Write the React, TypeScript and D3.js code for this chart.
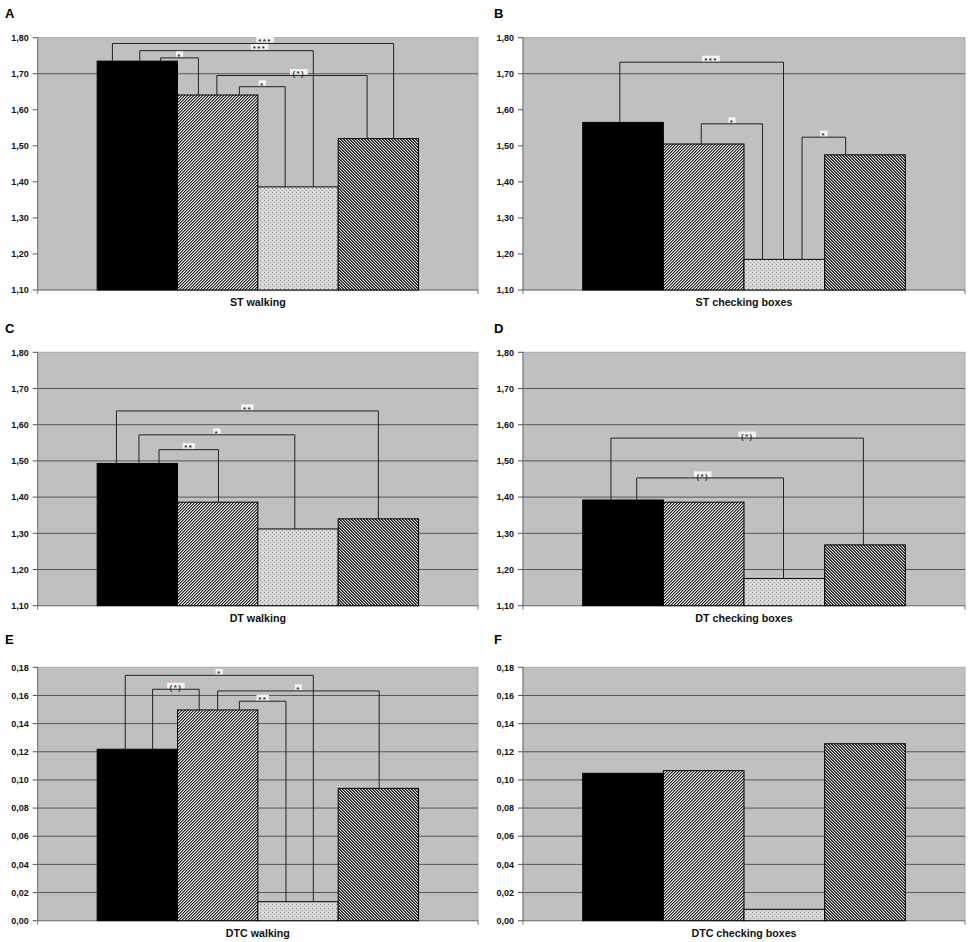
import React from "react";
import * as d3 from "d3";

// four groups, always drawn in this order
const groups = ["G1", "G2", "G3", "G4"];
const groupFills = ["#000", "url(#hatchUp)", "url(#dots)", "url(#hatchDown)"];

const letters = ["A", "B", "C", "D", "E", "F"];
const titles = [
  "ST walking",
  "ST checking boxes",
  "DT walking",
  "DT checking boxes",
  "DTC walking",
  "DTC checking boxes",
];

// bar heights per panel
const valuesA = [1.735, 1.641, 1.386, 1.52];
const valuesB = [1.565, 1.505, 1.185, 1.475];
const valuesC = [1.493, 1.386, 1.312, 1.34];
const valuesD = [1.392, 1.386, 1.175, 1.268];
const valuesE = [0.1218, 0.1497, 0.0135, 0.094];
const valuesF = [0.1047, 0.1066, 0.0081, 0.1257];

const ticksUpper = [1.1, 1.2, 1.3, 1.4, 1.5, 1.6, 1.7, 1.8];
const ticksLower = [0, 0.02, 0.04, 0.06, 0.08, 0.1, 0.12, 0.14, 0.16, 0.18];

// only one gridline survives in the top row
const gridTop = [1.7];
const gridUpper = [1.2, 1.3, 1.4, 1.5, 1.6, 1.7];
const gridLower = [0.02, 0.04, 0.06, 0.08, 0.1, 0.12, 0.14, 0.16];

// significance brackets: from/to in bar units (bar i spans i..i+1), level in data units
const bracketsA = [
  { from: 0.19, to: 3.69, level: 1.784, label: "***", at: 2.09 },
  { from: 0.53, to: 2.69, level: 1.764, label: "***", at: 2.02 },
  { from: 0.79, to: 1.26, level: 1.744, label: "*" },
  { from: 1.49, to: 3.36, level: 1.695, label: "(*)", at: 2.51 },
  { from: 1.77, to: 2.34, level: 1.664, label: "*" },
];
const bracketsB = [
  { from: 0.46, to: 2.49, level: 1.732, label: "***", at: 1.59 },
  { from: 1.47, to: 2.23, level: 1.561, label: "*" },
  { from: 2.72, to: 3.26, level: 1.524, label: "*" },
];
const bracketsC = [
  { from: 0.24, to: 3.5, level: 1.638, label: "**" },
  { from: 0.52, to: 2.46, level: 1.572, label: "*" },
  { from: 0.77, to: 1.51, level: 1.531, label: "**" },
];
const bracketsD = [
  { from: 0.35, to: 3.48, level: 1.563, label: "(*)", at: 2.04 },
  { from: 0.67, to: 2.49, level: 1.453, label: "(*)", at: 1.49 },
];
const bracketsE = [
  { from: 0.35, to: 2.69, level: 0.1743, label: "*" },
  { from: 0.69, to: 1.27, level: 0.1644, label: "(*)" },
  { from: 1.5, to: 3.51, level: 0.1632, label: "*" },
  { from: 1.77, to: 2.35, level: 0.1559, label: "**" },
];
const bracketsF = [];

const panelValues = [valuesA, valuesB, valuesC, valuesD, valuesE, valuesF];
const panelBrackets = [bracketsA, bracketsB, bracketsC, bracketsD, bracketsE, bracketsF];

// layout
const cols = [
  { left: 37.7, right: 478, letterX: 5 },
  { left: 523, right: 965, letterX: 494 },
];
const rows = [
  { top: 37.7, bottom: 290, letterY: 18.3 },
  { top: 352.3, bottom: 605.7, letterY: 332.7 },
  { top: 667.3, bottom: 920.7, letterY: 644 },
];

const font = "'Liberation Sans', Arial, sans-serif";
const fmt = (v) => d3.format(".2f")(v).replace(".", ",");

function Panel({ index }) {
  const col = cols[index % 2];
  const row = rows[Math.floor(index / 2)];
  const lower = index >= 4;
  const values = panelValues[index];
  const brackets = panelBrackets[index];
  const ticks = lower ? ticksLower : ticksUpper;
  const grid = index < 2 ? gridTop : lower ? gridLower : gridUpper;

  const y = d3
    .scaleLinear()
    .domain(lower ? [0, 0.18] : [1.1, 1.8])
    .range([row.bottom, row.top]);

  const cat = d3
    .scaleBand()
    .domain([titles[index]])
    .range([col.left, col.right])
    .paddingOuter(0.185);
  const x0 = cat(titles[index]);
  const bw = cat.bandwidth();
  const xs = d3.scaleBand().domain(groups).range([x0, x0 + bw]);
  const xu = d3.scaleLinear().domain([0, 4]).range([x0, x0 + bw]);

  const topAt = (p) => y(values[Math.min(3, Math.floor(p))]);

  return (
    <g>
      <text x={col.letterX} y={row.letterY} fontSize={13} fontWeight="bold" fontFamily={font}>
        {letters[index]}
      </text>
      <rect
        x={col.left}
        y={row.top}
        width={col.right - col.left}
        height={row.bottom - row.top}
        fill="#c0c0c0"
        stroke="#a8a8a8"
        strokeWidth={1}
      />
      {grid.map((g) => (
        <line key={g} x1={col.left} x2={col.right} y1={y(g)} y2={y(g)} stroke="#555" strokeWidth={1} />
      ))}
      {/* axes */}
      <line x1={col.left} x2={col.left} y1={row.top} y2={row.bottom} stroke="#777" strokeWidth={1} />
      <line x1={col.left} x2={col.right} y1={row.bottom} y2={row.bottom} stroke="#777" strokeWidth={1} />
      <line x1={col.left} x2={col.left} y1={row.bottom} y2={row.bottom + 4} stroke="#777" />
      <line x1={col.right} x2={col.right} y1={row.bottom} y2={row.bottom + 4} stroke="#777" />
      {ticks.map((t) => (
        <g key={t}>
          <line x1={col.left - 5} x2={col.left} y1={y(t)} y2={y(t)} stroke="#555" />
          <text
            x={col.left - 9}
            y={y(t) + 3.2}
            textAnchor="end"
            fontSize={9}
            fontWeight="bold"
            fontFamily={font}
            fill="#111"
          >
            {fmt(t)}
          </text>
        </g>
      ))}
      {groups.map((g, i) => (
        <rect
          key={g}
          x={xs(g)}
          y={y(values[i])}
          width={xs.bandwidth()}
          height={row.bottom - y(values[i])}
          fill={groupFills[i]}
          stroke="#000"
          strokeWidth={1}
        />
      ))}
      {brackets.map((b, i) => {
        const yl = y(b.level);
        const xa = xu(b.from);
        const xb = xu(b.to);
        const xm = xu(b.at ?? (b.from + b.to) / 2);
        const w = b.label.length * 5.2 + 2;
        return (
          <g key={i}>
            <path
              d={`M${xa},${topAt(b.from)}V${yl}H${xb}V${topAt(b.to)}`}
              fill="none"
              stroke="#222"
              strokeWidth={1}
            />
            <rect x={xm - w / 2} y={yl - 6.5} width={w} height={5.5} fill="#f4f4f4" />
            <text
              x={xm}
              y={yl + 0.8}
              textAnchor="middle"
              fontSize={8}
              letterSpacing={1.4}
              fontFamily={font}
              fontWeight="bold"
              fill="#333"
            >
              {b.label}
            </text>
          </g>
        );
      })}
      <text
        x={(col.left + col.right) / 2}
        y={row.bottom + 16}
        textAnchor="middle"
        fontSize={10.7}
        fontWeight="bold"
        fontFamily={font}
        fill="#111"
      >
        {titles[index]}
      </text>
    </g>
  );
}

// one 3x3 hatch cell: shade per diagonal phase
function Hatch({ id, dir, shades }) {
  const cells = [];
  for (let i = 0; i < 3; i++) {
    for (let j = 0; j < 3; j++) {
      const k = dir > 0 ? (i + j) % 3 : (i - j + 3) % 3;
      cells.push(
        <rect key={`${i}-${j}`} x={i} y={j} width={1} height={1} fill={shades[k]} shapeRendering="crispEdges" />
      );
    }
  }
  return (
    <pattern id={id} width={3} height={3} patternUnits="userSpaceOnUse">
      {cells}
    </pattern>
  );
}

export default function App() {
  return (
    <svg
      width={970}
      height={942}
      style={{ position: "absolute", left: 0, top: 0, background: "#fff" }}
    >
      <defs>
        <Hatch id="hatchUp" dir={1} shades={["#1e1e1e", "#8c8c8c", "#f0f0f0"]} />
        <Hatch id="hatchDown" dir={-1} shades={["#1a1a1a", "#5a5a5a", "#e8e8e8"]} />
        <pattern id="dots" width={4} height={4} patternUnits="userSpaceOnUse">
          <rect width={4} height={4} fill="#d6d6d6" />
          <rect x={0} y={0} width={1} height={1} fill="#8a8a8a" />
          <rect x={2} y={2} width={1} height={1} fill="#a8a8a8" />
          <rect x={2} y={0} width={1} height={1} fill="#f4f4f4" />
        </pattern>
      </defs>
      {letters.map((l, i) => (
        <Panel key={l} index={i} />
      ))}
    </svg>
  );
}
